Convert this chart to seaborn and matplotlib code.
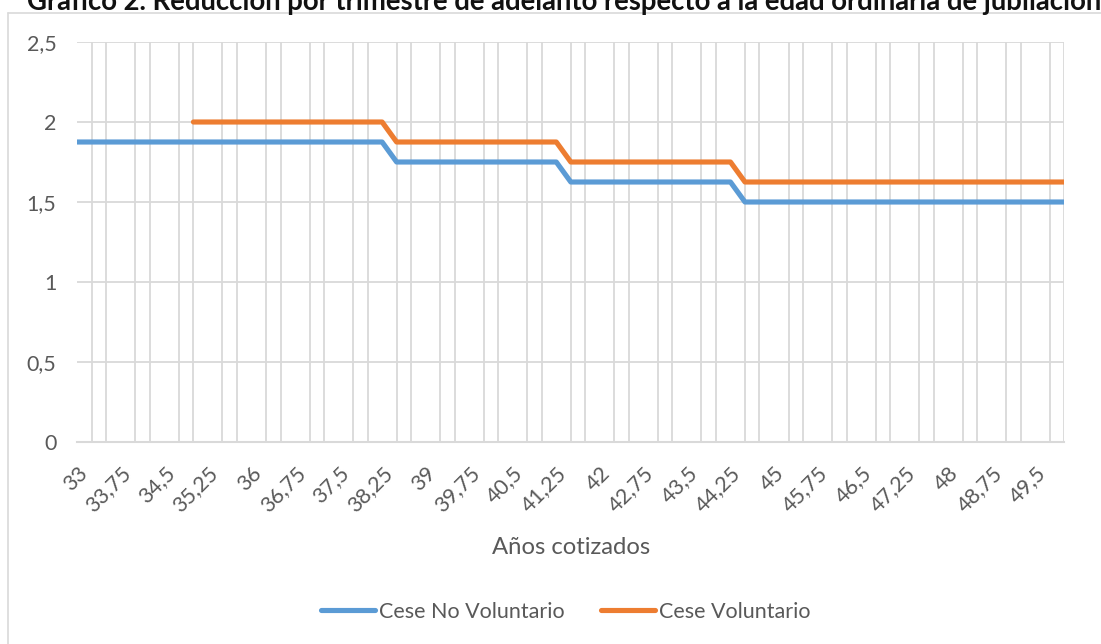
import matplotlib
matplotlib.use("Agg")
import matplotlib.pyplot as plt
from matplotlib.lines import Line2D
import seaborn as sns
import numpy as np
import pandas as pd

# Años cotizados (categorías del eje X)
years = [33, 33.25, 33.5, 33.75, 34, 34.25, 34.5, 34.75,
         35, 35.25, 35.5, 35.75, 36, 36.25, 36.5, 36.75,
         37, 37.25, 37.5, 37.75, 38, 38.25, 38.5, 38.75,
         39, 39.25, 39.5, 39.75, 40, 40.25, 40.5, 40.75,
         41, 41.25, 41.5, 41.75, 42, 42.25, 42.5, 42.75,
         43, 43.25, 43.5, 43.75, 44, 44.25, 44.5, 44.75,
         45, 45.25, 45.5, 45.75, 46, 46.25, 46.5, 46.75,
         47, 47.25, 47.5, 47.75, 48, 48.25, 48.5, 48.75,
         49, 49.25, 49.5, 49.75, 50]

# Cese No Voluntario
no_voluntario = [1.875] * 22 + [1.75] * 12 + [1.625] * 12 + [1.5] * 23
# Cese Voluntario (sin datos antes de 35 años)
voluntario = [np.nan] * 8 + [2.0] * 14 + [1.875] * 12 + [1.75] * 12 + [1.625] * 23

series_names = ["Cese No Voluntario", "Cese Voluntario"]
colors = ["#5B9BD5", "#ED7D31"]

df = pd.DataFrame({
    "idx": list(range(len(years))) * 2,
    "valor": no_voluntario + voluntario,
    "serie": [series_names[0]] * len(years) + [series_names[1]] * len(years),
})
df = df.dropna()

sns.set_style("white")
plt.rcParams["font.family"] = ["Lato", "DejaVu Sans"]

W, H = 1101, 644
fig = plt.figure(figsize=(W / 100, H / 100), dpi=100)
ax = fig.add_axes([77.3 / W, 1 - 442 / H, (1064.3 - 77.3) / W, 400 / H])

grid_c = "#d9d9d9"
text_c = "#595959"

sns.lineplot(data=df, x="idx", y="valor", hue="serie", palette=colors,
             hue_order=series_names, linewidth=3.7, ax=ax, legend=True)
for ln in ax.get_lines():
    ln.set_solid_capstyle("round")
    ln.set_solid_joinstyle("round")
    ln.set_zorder(3)

ax.set_xlim(0, len(years) - 1)
ax.set_ylim(0, 2.5)

# gridlines: every category vertical, every 0.5 horizontal
ax.set_xticks(range(len(years)), minor=True)
ax.set_yticks([0, 0.5, 1, 1.5, 2, 2.5])
ax.set_yticklabels(["0", "0,5", "1", "1,5", "2", "2,5"])
ax.grid(True, which="minor", axis="x", color=grid_c, linewidth=1.3)
ax.grid(True, which="major", axis="y", color=grid_c, linewidth=1.3)
ax.set_axisbelow(True)

lab_idx = list(range(0, len(years), 3))
ax.set_xticks(lab_idx)
ax.set_xticklabels([("%g" % years[i]).replace(".", ",") for i in lab_idx],
                   rotation=45, ha="right", rotation_mode="anchor")
ax.tick_params(axis="both", which="both", length=0, colors=text_c, labelsize=15.5)
ax.tick_params(axis="x", pad=15)
ax.tick_params(axis="y", pad=15)

for s in ["top", "right", "left"]:
    ax.spines[s].set_visible(False)
ax.spines["bottom"].set_color(grid_c)
ax.spines["bottom"].set_linewidth(1.5)

ax.set_xlabel("Años cotizados", fontsize=17.2, color=text_c, labelpad=15)
ax.set_ylabel("")

handles, labels = ax.get_legend_handles_labels()
leg = ax.legend(handles, labels, loc="center", bbox_to_anchor=(566 / W, 1 - 612 / H),
                bbox_transform=fig.transFigure, ncol=2, frameon=False,
                fontsize=15.5, handlelength=2.5, handletextpad=0.2,
                columnspacing=1.7, labelcolor=text_c)
for h in leg.get_lines():
    h.set_solid_capstyle("round")
    h.set_linewidth(3.7)

# chart area border (partially cut by the image edges)
fig.add_artist(Line2D([8 / W, 8 / W], [0, 1 - 13 / H], transform=fig.transFigure,
                      color=grid_c, linewidth=1.2))
fig.add_artist(Line2D([8 / W, 1], [1 - 13 / H, 1 - 13 / H], transform=fig.transFigure,
                      color=grid_c, linewidth=1.2))

fig.text(27 / W, 1 - 10 / H,
         "Gráfico 2. Reducción por trimestre de adelanto respecto a la edad ordinaria de jubilación",
         ha="left", va="baseline", fontsize=19.8, fontweight="bold", color="#111111")

fig.savefig("out.png", dpi=100)
